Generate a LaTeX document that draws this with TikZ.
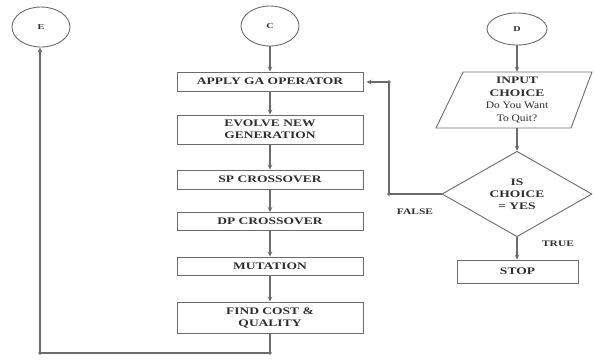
\documentclass[tikz,border=0pt]{standalone}
\usepackage{fontspec}
\setmainfont{Liberation Serif}
\newfontfamily\bxfont{Liberation Serif}[FakeStretch=1.35]
\newfontfamily\rgfont{Liberation Serif}[FakeStretch=1.15]
\usetikzlibrary{shapes.geometric,arrows.meta}
\definecolor{lc}{gray}{0.42}
\definecolor{tc}{gray}{0.18}
\tikzset{
  conn/.style={draw=lc, line width=1.1pt},
  arr/.style={conn, -{Stealth[length=5pt,width=4.5pt]}},
  pbox/.style={draw=lc, line width=0.9pt, rectangle, minimum width=186pt, align=center,
    text=tc, inner sep=1pt, font=\bxfont\bfseries\fontsize{10}{12}\selectfont},
  conncirc/.style={draw=lc, line width=0.9pt, ellipse, minimum width=58pt, minimum height=40pt,
    text=tc, inner sep=0pt, font=\bxfont\bfseries\fontsize{7.5}{8}\selectfont},
  lbl/.style={text=tc, font=\bxfont\bfseries\fontsize{8.5}{10}\selectfont},
  jdot/.style={fill=lc, draw=none},
}
\begin{document}
\begin{tikzpicture}[x=1pt,y=-1pt]
\useasboundingbox (0,0) rectangle (594,360);
% connectors circles
\node[conncirc] (E) at (41,27) {E};
\node[conncirc] (C) at (270,26) {C};
\node[conncirc, minimum width=60pt, minimum height=32pt] (D) at (517,29) {D};
% process boxes
\node[pbox, minimum height=19pt] (apply) at (270,81.5) {APPLY GA OPERATOR};
\node[pbox, minimum height=29pt] (evolve) at (270,129.5) {EVOLVE NEW\\GENERATION};
\node[pbox, minimum height=19pt] (sp) at (270,179.5) {SP CROSSOVER};
\node[pbox, minimum height=18pt] (dp) at (270,221.5) {DP CROSSOVER};
\node[pbox, minimum height=18pt] (mut) at (270,266) {MUTATION};
\node[pbox, minimum height=31pt] (find) at (270,317.5) {FIND COST \&\\QUALITY};
% input parallelogram
\node[minimum width=110pt, minimum height=56pt, inner sep=0pt, align=center, text=tc,
  font=\fontsize{10}{12.5}\selectfont] (input) at (517,100)
  {{\bxfont\bfseries INPUT}\\{\bxfont\bfseries CHOICE}\\{\rgfont Do You Want}\\{\rgfont To Quit?}};
\draw[conn, line width=0.9pt] (463,72) -- (592,72) -- (571,128) -- (436,128) -- cycle;
% decision
\node[diamond, draw=lc, line width=0.9pt, minimum width=150pt, minimum height=80pt, inner sep=0pt,
  align=center, text=tc, font=\bxfont\bfseries\fontsize{10}{12}\selectfont] (dec) at (517,194)
  {IS\\CHOICE\\= YES};
\node[draw=lc, line width=0.9pt, minimum width=121pt, minimum height=23pt, text=tc,
  font=\bxfont\bfseries\fontsize{10}{12}\selectfont] (stop) at (517.5,271.5) {STOP};
% labels
\node[lbl] (false) at (415,212) {FALSE};
\node[lbl] (true) at (558,244) {TRUE};
% flow
\draw[arr] (C) -- (apply);
\draw[arr] (apply) -- (evolve);
\draw[arr] (evolve) -- (sp);
\draw[arr] (sp) -- (dp);
\draw[arr] (dp) -- (mut);
\draw[arr] (mut) -- (find);
\coordinate (b1) at (270,353);
\coordinate (b2) at (40,353);
\draw[arr] (find.south) -- (b1) -- (b2) -- (E.south -| b2);
\fill[jdot] (b1) circle (1.8pt);
\fill[jdot] (b2) circle (1.8pt);
\draw[arr] (D) -- (D.south |- input.north);
\draw[arr] (input.south -| dec.north) -- (dec.north);
\draw[arr] (dec.south) -- (stop.north -| dec.south);
\coordinate (f1) at (389,194);
\coordinate (f2) at (389,82);
\draw[arr] (dec.west) -- (f1) -- (f2) -- ([xshift=3pt]apply.east |- f2);
\fill[jdot] (f1) circle (1.8pt);
\fill[jdot] (f2) circle (1.8pt);
\end{tikzpicture}
\end{document}
